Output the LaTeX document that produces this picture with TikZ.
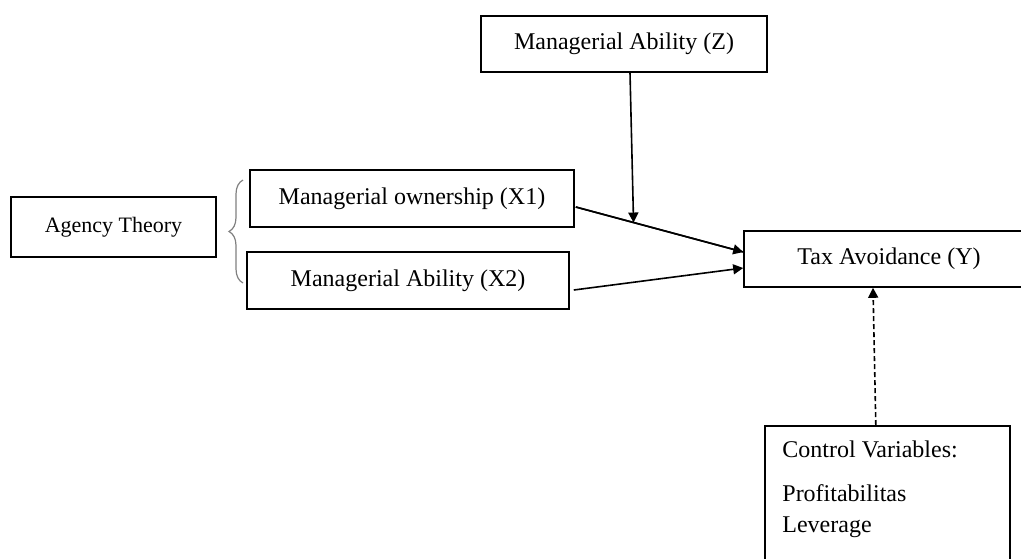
\documentclass[tikz,border=0pt]{standalone}
\usepackage{fontspec}
\setmainfont{Liberation Serif}
\usetikzlibrary{arrows.meta,calc,decorations.pathreplacing}
\tikzset{
  box/.style={draw, line width=0.8pt, inner sep=0pt, font=\fontsize{12}{14}\selectfont},
  arr/.style={line width=0.8pt, -{Triangle[length=5pt,width=5pt]}}
}
\begin{document}
\begin{tikzpicture}[x=0.5pt, y=-0.5pt]
        \useasboundingbox (0,0) rectangle (1021,558);
        \clip (0,0) rectangle (1021,558);
        % boxes
        \node[box, minimum width=102.5pt, minimum height=30pt, font=\fontsize{11}{13}\selectfont] (agency) at (113.5,227) {Agency Theory};
        \node[box, minimum width=162pt, minimum height=28.5pt] (x1) at (412,198.5) {Managerial ownership (X1)};
        \node[box, minimum width=161pt, minimum height=28.5pt] (x2) at (408,280.5) {Managerial Ability (X2)};
        \node[box, minimum width=143pt, minimum height=28pt] (z) at (624,44) {Managerial Ability (Z)};
        \node[box, minimum width=145pt, minimum height=28pt] (tax) at (889,259) {Tax Avoidance (Y)};
        \node[box, minimum width=122.5pt, minimum height=90pt, anchor=north west] (ctrl) at (764,425) {};
        \node[anchor=base west, align=left, inner sep=0pt, font=\fontsize{12}{15.5}\selectfont] (ctrltext) at ($(ctrl.north west)+(18,107)$)
            {Control Variables:\\[6.5pt] Profitabilitas\\ Leverage};
        % brace
        \draw[gray, line width=0.6pt, decorate, decoration={brace, amplitude=7pt}] (243,283) -- (243,180);
        % paths
        \draw[line width=0.8pt] ($(x1.east)+(1,8.5)$) -- ($(tax.west)+(0,-7)$) coordinate[pos=0.345] (hit);
        \draw[arr] ($(x1.east)+(1,8.5)$) -- ($(tax.west)+(0,-7)$);
        \draw[arr] ($(x2.east)+(4,9.5)$) -- ($(tax.west)+(0,9)$);
        \draw[arr] ($(z.south)+(6,0)$) -- (hit);
        \draw[arr, dashed, dash pattern=on 2.5pt off 1.5pt] ($(ctrl.north)+(-11.5,0)$) -- ($(tax.south)+(-16,0)$);
    \end{tikzpicture}
\end{document}
